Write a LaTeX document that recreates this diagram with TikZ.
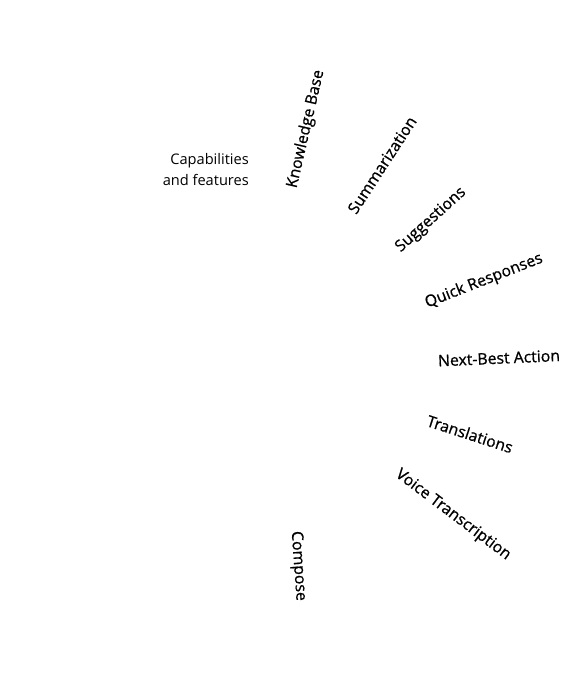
\documentclass[tikz,border=0pt]{standalone}
\usepackage{fontspec}
\setmainfont{Open Sans}
\newfontfamily\featfont[FakeBold=0.8]{Open Sans}
\usepackage{tikz}
\usetikzlibrary{positioning}

\begin{document}
\begin{tikzpicture}[
    x=1pt, y=-1pt,
    hub/.style={font=\fontsize{14.6}{21}\selectfont, align=right, inner sep=0pt},
    feat/.style={font=\featfont\fontsize{15.8}{18}\selectfont, inner sep=0pt, anchor=center}
]
\useasboundingbox (0,0) rectangle (576,696);

\node[hub, anchor=east] (hub) at (249,170) {Capabilities\\and features};

\node[feat, rotate=77] (kb) at (306,129) {Knowledge Base};
\node[feat, rotate=57] (summ) at (382,165) {Summarization};
\node[feat, rotate=42] (sugg) at (431,220) {Suggestions};
\node[feat, rotate=21.5] (quick) at (484,281) {Quick Responses};
\node[feat, rotate=2.5] (nba) at (499,358) {Next-Best Action};
\node[feat, rotate=-18] (trans) at (470,434) {Translations};
\node[feat, rotate=-37] (voice) at (453,515) {Voice Transcription};
\node[feat, rotate=-86] (comp) at (298,566) {Compose};
\end{tikzpicture}
\end{document}
